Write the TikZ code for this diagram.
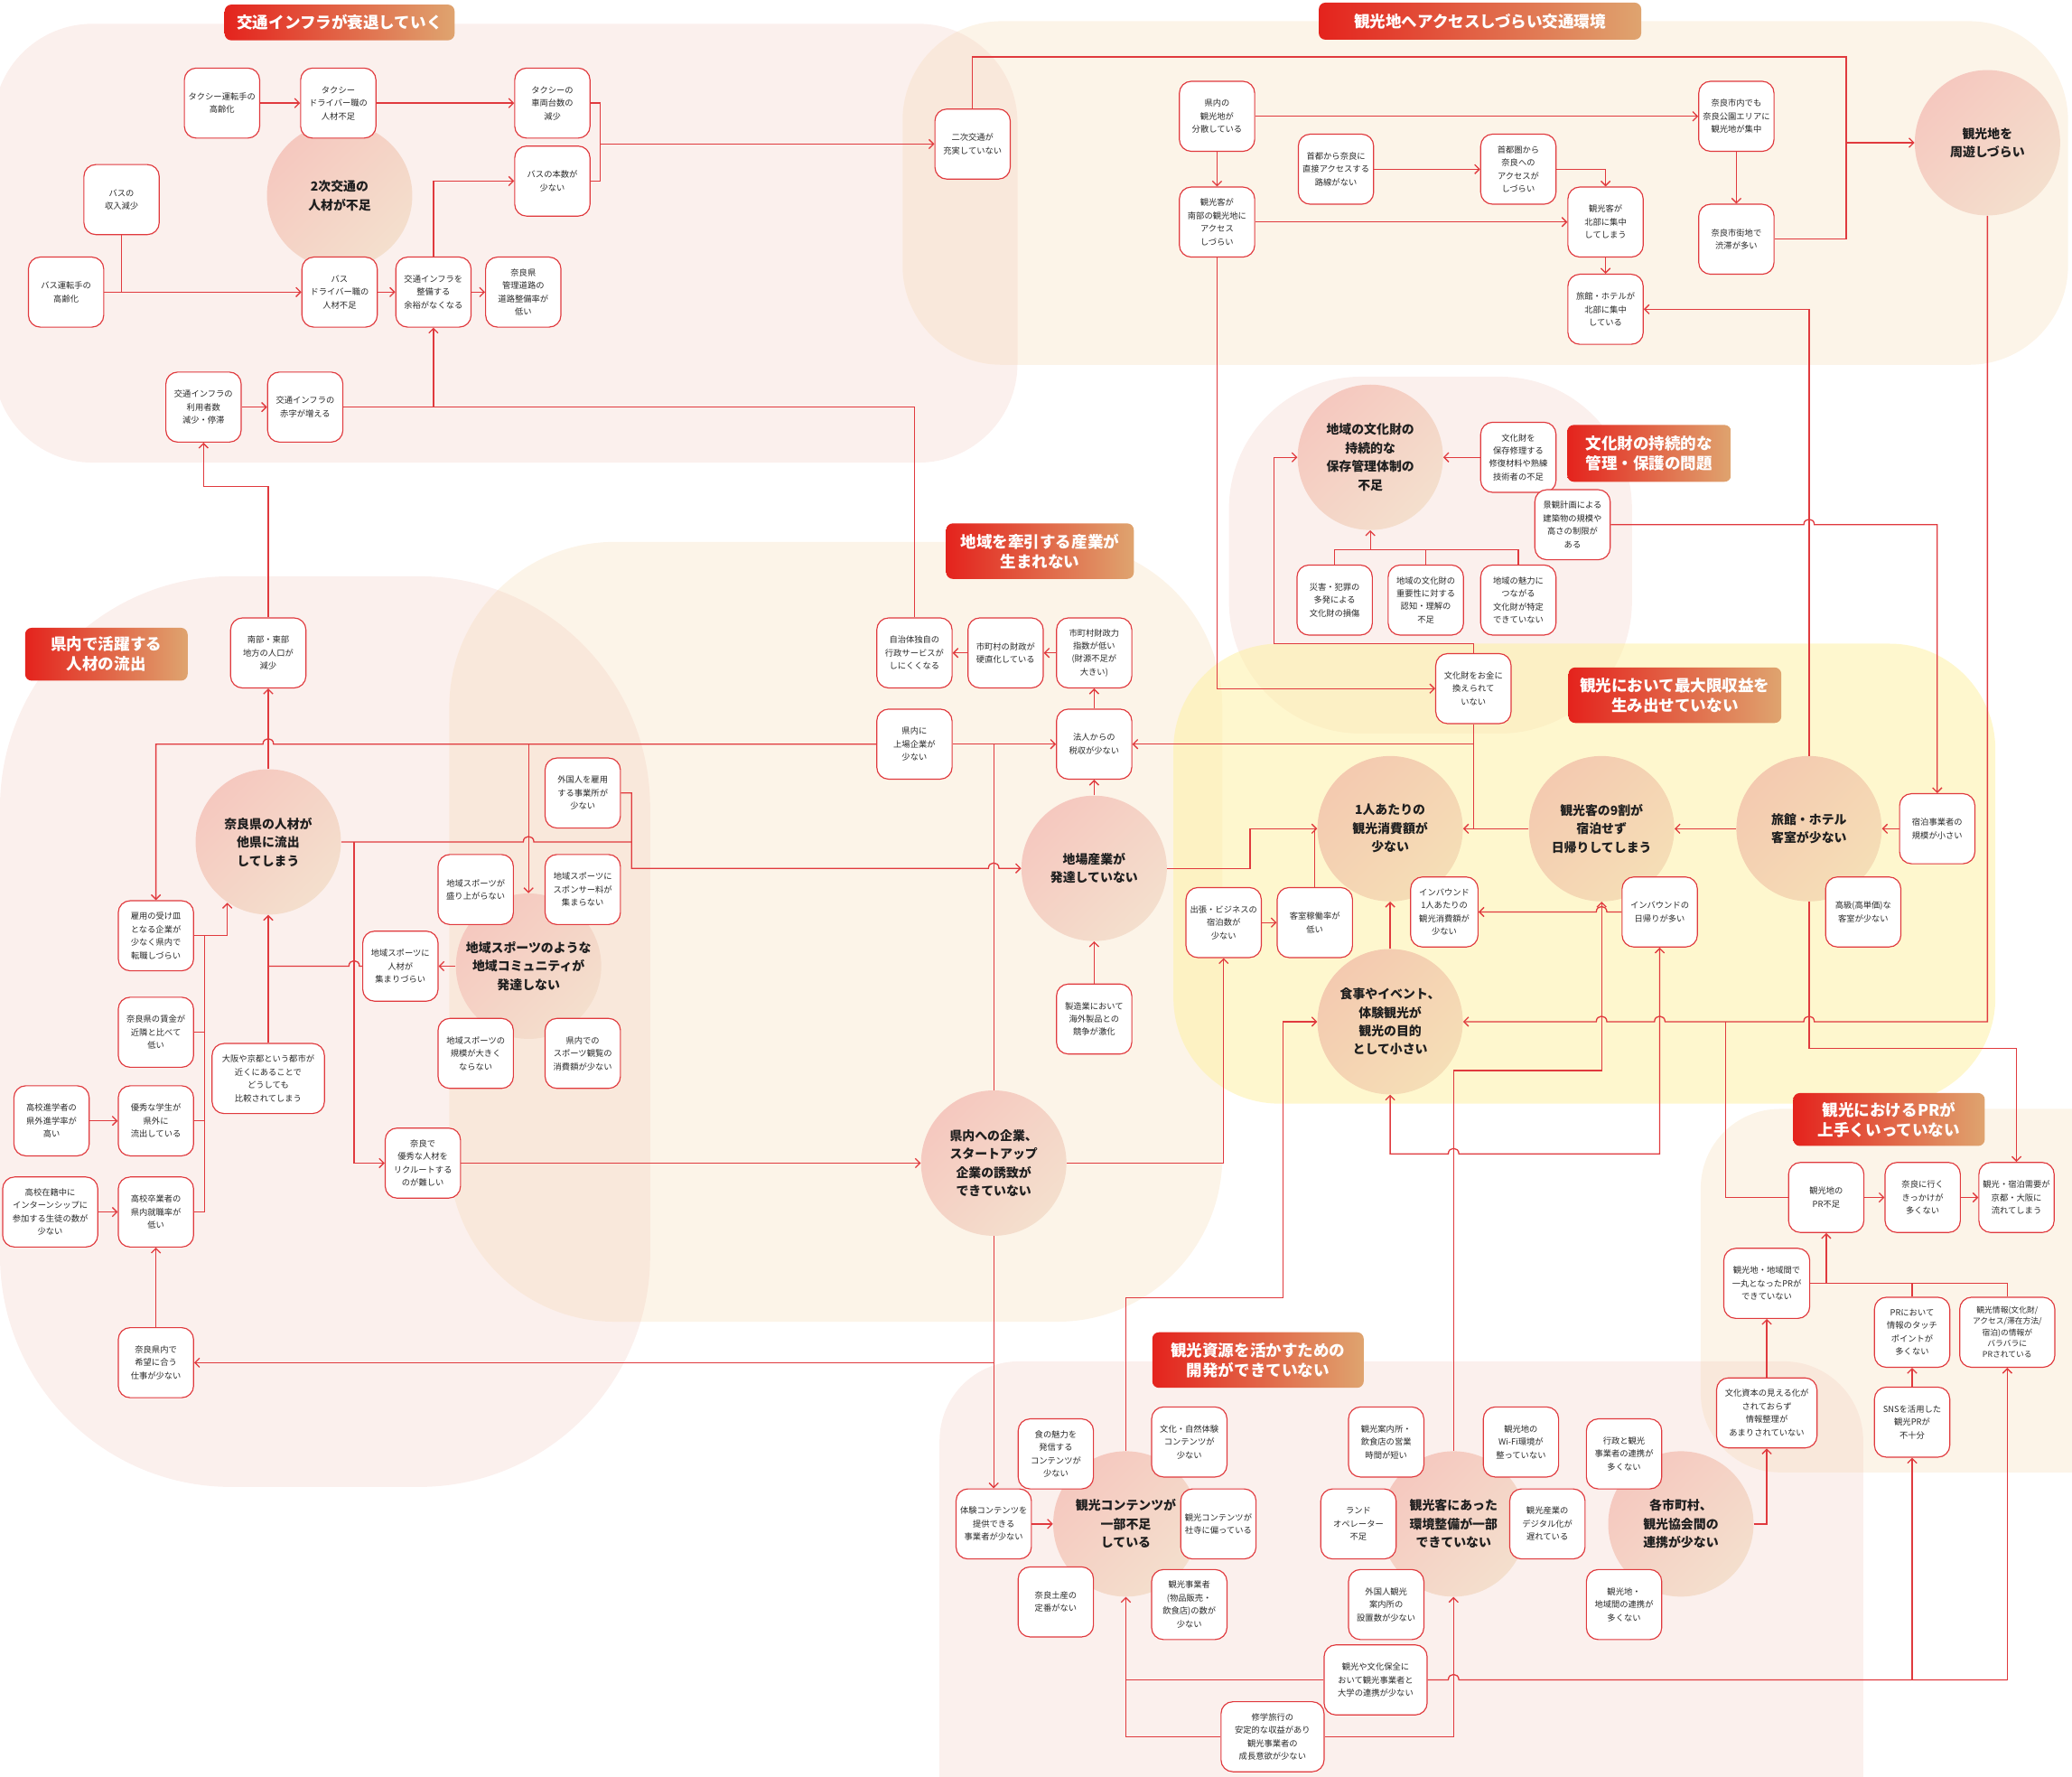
\documentclass[tikz,border=0pt]{standalone}
\usepackage{fontspec}
\setmainfont{Noto Sans CJK JP}
\usetikzlibrary{arrows.meta}
\definecolor{lred}{HTML}{E03A3E}
\definecolor{pinkR}{HTML}{F2C6BC}
\definecolor{beigeR}{HTML}{F5D5AA}
\definecolor{yellowR}{HTML}{FEF09E}
\definecolor{ellA}{HTML}{F5C8BF}
\definecolor{ellB}{HTML}{F4DFCD}
\definecolor{ellYA}{HTML}{F4CAB0}
\definecolor{ellYB}{HTML}{F5DEB6}
\definecolor{titA}{HTML}{E4231D}
\definecolor{titB}{HTML}{DFA46F}
\definecolor{txt}{HTML}{2A2A2A}
\begin{document}
\begin{tikzpicture}[x=1pt,y=-1pt,
  box/.style={draw=lred, line width=0.8pt, fill=white, rounded corners=9pt,
    minimum width=57pt, minimum height=53pt, inner sep=1pt, align=center,
    text=txt, font=\fontsize{6.35}{9.9}\selectfont},
  ell/.style={circle, minimum size=110pt, inner sep=0pt, top color=ellA, bottom color=ellB, shading angle=45},
  ellY/.style={circle, minimum size=110pt, inner sep=0pt, top color=ellYA, bottom color=ellYB, shading angle=45},
  etext/.style={align=center, inner sep=0pt, text=black!88, font=\bfseries\fontsize{9.5}{14}\selectfont},
  titlebox/.style={rounded corners=5pt, left color=titA, right color=titB, text=white,
    align=center, inner sep=0pt, font=\bfseries\fontsize{12}{15}\selectfont},
  conn/.style={draw=lred, line width=0.9pt},
  arr/.style={conn, -{Straight Barb[length=3.5pt,width=7pt]}},
  arrb/.style={conn, {Straight Barb[length=3.5pt,width=7pt]}-{Straight Barb[length=3.5pt,width=7pt]}},
  hopr/.style args={#1/#2}{insert path={-- ({#1-4},#2) .. controls ({#1-4},{#2-5.5}) and ({#1+4},{#2-5.5}) .. ({#1+4},#2)}},
  hopl/.style args={#1/#2}{insert path={-- ({#1+4},#2) .. controls ({#1+4},{#2-5.5}) and ({#1-4},{#2-5.5}) .. ({#1-4},#2)}},
  region/.style={fill opacity=0.27}
]
\useasboundingbox (0,0) rectangle (1568,1344);
% ---------- background regions ----------
\fill[pinkR, region, rounded corners=75pt] (-5,18) rectangle (770,350);
\fill[beigeR, region, rounded corners=75pt] (683,16) rectangle (1565,276);
\fill[pinkR, region, rounded corners=175pt] (0,436) rectangle (492,1125);
\fill[beigeR, region, rounded corners=125pt] (340,410) rectangle (925,1000);
\fill[pinkR, region, rounded corners=100pt] (930,285) rectangle (1235,555);
\fill[yellowR, fill opacity=0.5, rounded corners=80pt] (888,487) rectangle (1510,835);
\fill[pinkR, region, rounded corners=60pt] (711,1030) rectangle (1410,1420);
\fill[beigeR, region, rounded corners=60pt] (1287,839) rectangle (1640,1114);
% ---------- circles ----------
\node[ell] (E1) at (257,148) {};
\node[ell] (E2) at (1504,108) {};
\node[ell] (E3) at (1037,346) {};
\node[ell] (E4) at (203,637) {};
\node[ell] (E5) at (400,731) {};
\node[ell] (E6) at (828,657) {};
\node[ellY] (E7) at (1052,627) {};
\node[ellY] (E8) at (1212,627) {};
\node[ellY] (E9) at (1369,627) {};
\node[ellY] (E10) at (1052,773) {};
\node[ell] (E11) at (752,880) {};
\node[ell] (E12) at (852,1153) {};
\node[ell] (E13) at (1100,1153) {};
\node[ell] (E14) at (1272,1153) {};
% ---------- boxes ----------
% top-left
\node[box] (taxiage) at (168,78) {タクシー運転手の\\高齢化};
\node[box] (taxidrv) at (256,78) {タクシー\\ドライバー職の\\人材不足};
\node[box] (taxicnt) at (418,78) {タクシーの\\車両台数の\\減少};
\node[box] (busnum) at (418,137) {バスの本数が\\少ない};
\node[box] (businc) at (92,151) {バスの\\収入減少};
\node[box] (busage) at (50,221) {バス運転手の\\高齢化};
\node[box] (busdrv) at (257,221) {バス\\ドライバー職の\\人材不足};
\node[box] (infra) at (328,221) {交通インフラを\\整備する\\余裕がなくなる};
\node[box] (road) at (396,221) {奈良県\\管理道路の\\道路整備率が\\低い};
\node[box] (users) at (154,308) {交通インフラの\\利用者数\\減少・停滞};
\node[box] (deficit) at (231,308) {交通インフラの\\赤字が増える};
% top-right
\node[box] (niji) at (736,109) {二次交通が\\充実していない};
\node[box] (bunsan) at (921,88) {県内の\\観光地が\\分散している};
\node[box] (south) at (921,168) {観光客が\\南部の観光地に\\アクセス\\しづらい};
\node[box] (shuto) at (1011,128) {首都から奈良に\\直接アクセスする\\路線がない};
\node[box] (shutoken) at (1149,128) {首都圏から\\奈良への\\アクセスが\\しづらい};
\node[box] (north) at (1215,168) {観光客が\\北部に集中\\してしまう};
\node[box] (ryokann) at (1215,234) {旅館・ホテルが\\北部に集中\\している};
\node[box] (park) at (1314,88) {奈良市内でも\\奈良公園エリアに\\観光地が集中};
\node[box] (jam) at (1314,181) {奈良市街地で\\渋滞が多い};
% cultural
\node[box] (repair) at (1149,346) {文化財を\\保存修理する\\修復材料や熟練\\技術者の不足};
\node[box] (keikan) at (1190,397) {景観計画による\\建築物の規模や\\高さの制限が\\ある};
\node[box] (disaster) at (1010,454) {災害・犯罪の\\多発による\\文化財の損傷};
\node[box] (importance) at (1079,454) {地域の文化財の\\重要性に対する\\認知・理解の\\不足};
\node[box] (attract) at (1149,454) {地域の魅力に\\つながる\\文化財が特定\\できていない};
\node[box] (money) at (1115,521) {文化財をお金に\\換えられて\\いない};
% middle
\node[box] (jichitai) at (692,494) {自治体独自の\\行政サービスが\\しにくくなる};
\node[box] (zaisei) at (761,494) {市町村の財政が\\硬直化している};
\node[box] (shisu) at (828,494) {市町村財政力\\指数が低い\\(財源不足が\\大きい)};
\node[box] (jojo) at (692,563) {県内に\\上場企業が\\少ない};
\node[box] (hojin) at (828,563) {法人からの\\税収が少ない};
\node[box] (seizo) at (828,771) {製造業において\\海外製品との\\競争が激化};
% left
\node[box] (southeast) at (203,494) {南部・東部\\地方の人口が\\減少};
\node[box] (gaikoku) at (441,600) {外国人を雇用\\する事業所が\\少ない};
\node[box] (moriagari) at (360,673) {地域スポーツが\\盛り上がらない};
\node[box] (sponsor) at (441,673) {地域スポーツに\\スポンサー料が\\集まらない};
\node[box] (spjinzai) at (303,731) {地域スポーツに\\人材が\\集まりづらい};
\node[box] (spkibo) at (360,797) {地域スポーツの\\規模が大きく\\ならない};
\node[box] (spshohi) at (441,797) {県内での\\スポーツ観覧の\\消費額が少ない};
\node[box] (koyo) at (118,708) {雇用の受け皿\\となる企業が\\少なく県内で\\転職しづらい};
\node[box] (chingin) at (118,781) {奈良県の賃金が\\近隣と比べて\\低い};
\node[box] (yushu) at (118,848) {優秀な学生が\\県外に\\流出している};
\node[box] (kokoshin) at (39,848) {高校進学者の\\県外進学率が\\高い};
\node[box] (sotsu) at (118,917) {高校卒業者の\\県内就職率が\\低い};
\node[box, minimum width=72pt] (intern) at (38,917) {高校在籍中に\\インターンシップに\\参加する生徒の数が\\少ない};
\node[box] (kibou) at (118,1031) {奈良県内で\\希望に合う\\仕事が少ない};
\node[box, minimum width=85pt] (osaka) at (203,816) {大阪や京都という都市が\\近くにあることで\\どうしても\\比較されてしまう};
\node[box] (recruit) at (320,880) {奈良で\\優秀な人材を\\リクルートする\\のが難しい};
% yellow
\node[box] (small) at (1466,627) {宿泊事業者の\\規模が小さい};
\node[box] (luxury) at (1410,690) {高級(高単価)な\\客室が少ない};
\node[box] (inday) at (1256,690) {インバウンドの\\日帰りが多い};
\node[box, minimum width=51pt] (inspend) at (1093,690) {インバウンド\\1人あたりの\\観光消費額が\\少ない};
\node[box] (business) at (926,698) {出張・ビジネスの\\宿泊数が\\少ない};
\node[box] (occupancy) at (995,698) {客室稼働率が\\低い};
% bottom
\node[box] (taiken) at (752,1153) {体験コンテンツを\\提供できる\\事業者が少ない};
\node[box] (shoku) at (799,1100) {食の魅力を\\発信する\\コンテンツが\\少ない};
\node[box] (bunka) at (900,1091) {文化・自然体験\\コンテンツが\\少ない};
\node[box] (shaji) at (922,1153) {観光コンテンツが\\社寺に偏っている};
\node[box] (miyage) at (799,1212) {奈良土産の\\定番がない};
\node[box] (jigyosha) at (900,1214) {観光事業者\\(物品販売・\\飲食店)の数が\\少ない};
\node[box] (annai) at (1049,1091) {観光案内所・\\飲食店の営業\\時間が短い};
\node[box] (land) at (1028,1153) {ランド\\オペレーター\\不足};
\node[box] (wifi) at (1151,1091) {観光地の\\Wi-Fi環境が\\整っていない};
\node[box] (digital) at (1171,1153) {観光産業の\\デジタル化が\\遅れている};
\node[box] (gannai) at (1049,1214) {外国人観光\\案内所の\\設置数が少ない};
\node[box] (gyosei) at (1229,1100) {行政と観光\\事業者の連携が\\多くない};
\node[box] (chiiki) at (1229,1214) {観光地・\\地域間の連携が\\多くない};
\node[box, minimum width=78pt] (daigaku) at (1041,1271) {観光や文化保全に\\おいて観光事業者と\\大学の連携が少ない};
\node[box, minimum width=78pt] (shugaku) at (963,1314) {修学旅行の\\安定的な収益があり\\観光事業者の\\成長意欲が少ない};
% PR
\node[box] (prfusoku) at (1382,906) {観光地の\\PR不足};
\node[box] (kikkake) at (1455,906) {奈良に行く\\きっかけが\\多くない};
\node[box] (juyo) at (1526,906) {観光・宿泊需要が\\京都・大阪に\\流れてしまう};
\node[box, minimum width=65pt] (ichigan) at (1337,971) {観光地・地域間で\\一丸となったPRが\\できていない};
\node[box] (touch) at (1447,1008) {PRにおいて\\情報のタッチ\\ポイントが\\多くない};
\node[box, minimum width=72pt, font=\fontsize{6}{8.4}\selectfont] (info) at (1519,1008) {観光情報(文化財/\\アクセス/滞在方法/\\宿泊)の情報が\\バラバラに\\PRされている};
\node[box, minimum width=76pt] (shihon) at (1337,1069) {文化資本の見える化が\\されておらず\\情報整理が\\あまりされていない};
\node[box] (sns) at (1447,1076) {SNSを活用した\\観光PRが\\不十分};
% ---------- connectors ----------
% top-left
\draw[arr] (taxiage.east) -- (taxidrv.west);
\draw[arr] (taxidrv.east) -- (taxicnt.west);
\draw[conn] (taxicnt.east) -- (454,78) -- (454,137) -- (busnum.east);
\draw[arr] (454,109) -- (niji.west);
\draw[arr] (busage.east) -- (busdrv.west);
\draw[conn] (businc.south) -- (92,221);
\draw[arr] (busdrv.east) -- (infra.west);
\draw[arr] (infra.east) -- (road.west);
\draw[arr] (infra.north) -- (328,137) -- (busnum.west);
\draw[arr] (users.east) -- (deficit.west);
\draw[arr] (jichitai.north) -- (692,308) -- (328,308) -- (infra.south);
\draw[conn] (deficit.east) -- (328,308);
\draw[arr] (southeast.north) -- (203,368) -- (154,368) -- (users.south);
% top-right
\draw[conn] (niji.north) -- (736,43) -- (1397,43) -- (1397,181) -- (jam.east);
\draw[arr] (1397,108) -- (E2.west);
\draw[arr] (bunsan.east) -- (park.west);
\draw[arr] (bunsan.south) -- (south.north);
\draw[arr] (shuto.east) -- (shutoken.west);
\draw[arr] (shutoken.east) -- (1215,128) -- (north.north);
\draw[arr] (south.east) -- (north.west);
\draw[arr] (north.south) -- (ryokann.north);
\draw[arr] (park.south) -- (jam.north);
\draw[arr] (E9.north) -- (1369,234) -- (ryokann.east);
\draw[arr] (south.south) -- (921,521) -- (money.west);
\draw[arr] (E2.south) -- (1504,773) [hopl=1369/773] [hopl=1256/773] [hopl=1212/773] -- (E10.east);
% cultural
\draw[arr] (repair.west) -- (E3.east);
\draw[conn] (disaster.north) -- (1010,416) -- (1149,416) -- (attract.north);
\draw[conn] (importance.north) -- (1079,416);
\draw[arr] (1037,416) -- (E3.south);
\draw[arr] (money.north) -- (1115,487) -- (964,487) -- (964,346) -- (E3.west);
\draw[conn] (money.south) -- (1115,627);
\draw[arr] (1115,563) -- (hojin.east);
\draw[arr] (E8.west) -- (E7.east);
\draw[arr] (keikan.east) [hopr=1369/397] -- (1466,397) -- (small.north);
% yellow
\draw[arr] (small.west) -- (E9.east);
\draw[arr] (E9.west) -- (E8.east);
\draw[arr] (E6.east) -- (946,657) -- (946,627) -- (E7.west);
\draw[conn] (occupancy.north) -- (995,627);
\draw[arr] (business.east) -- (occupancy.west);
\draw[arr] (E11.east) -- (926,880) -- (business.south);
\draw[arr] (E10.north) -- (E7.south);
\draw[arr] (inday.west) [hopl=1212/690] -- (inspend.east);
\draw[arr] (E13.north) -- (1100,810) -- (1212,810) -- (E8.south);
\draw[arr] (E9.south) -- (1369,793) -- (1526,793) -- (juyo.north);
\draw[conn] (prfusoku.west) -- (1306,906) -- (1306,773);
\draw[arrb] (E10.south) -- (1052,873) [hopr=1100/873] -- (1256,873) -- (inday.south);
% bottom
\draw[arr] (E12.north) -- (852,982) -- (971,982) -- (971,773) -- (E10.west);
\draw[arr] (shugaku.west) -- (852,1314) -- (E12.south);
\draw[conn] (daigaku.west) -- (852,1271);
\draw[arr] (shugaku.east) -- (1100,1314) -- (E13.south);
\draw[conn] (daigaku.east) [hopr=1100/1271] -- (1519,1271);
\draw[arr] (1447,1271) -- (sns.south);
\draw[arr] (1519,1271) -- (info.south);
\draw[arr] (taiken.east) -- (E12.west);
\draw[arr] (E11.south) -- (taiken.north);
\draw[arr] (752,1031) -- (kibou.east);
% left
\draw[arr] (kibou.north) -- (sotsu.south);
\draw[arr] (kokoshin.east) -- (yushu.west);
\draw[arr] (intern.east) -- (sotsu.west);
\draw[arr] (sotsu.east) -- (155,917) -- (155,708) -- (172,708) -- (172,683);
\draw[conn] (koyo.east) -- (155,708);
\draw[conn] (chingin.east) -- (155,781);
\draw[conn] (yushu.east) -- (155,848);
\draw[arr] (osaka.north) -- (E4.south);
\draw[conn] (spjinzai.west) [hopl=268/731] -- (203,731);
\draw[arr] (E5.west) -- (spjinzai.east);
\draw[arr] (E4.north) -- (southeast.south);
\draw[arr] (jojo.west) -- (400,563) [hopl=203/563] -- (118,563) -- (koyo.north);
\draw[arr] (400,563) -- (E5.north);
\draw[arr] (jojo.east) -- (hojin.west);
\draw[conn] (E11.north) -- (752,563);
\draw[arr] (E6.north) -- (hojin.south);
\draw[arr] (seizo.north) -- (E6.south);
\draw[arr] (hojin.north) -- (shisu.south);
\draw[arr] (shisu.west) -- (zaisei.east);
\draw[arr] (zaisei.west) -- (jichitai.east);
\draw[arr] (gaikoku.east) -- (478,600) -- (478,657) [hopr=752/657] -- (E6.west);
\draw[conn] (E4.east) [hopr=400/637] -- (478,637);
\draw[arr] (268,637) -- (268,880) -- (recruit.west);
\draw[arr] (recruit.east) -- (E11.west);
% PR
\draw[arr] (E14.east) -- (1337,1153) -- (shihon.south);
\draw[arr] (shihon.north) -- (ichigan.south);
\draw[conn] (ichigan.east) -- (1519,971) -- (info.north);
\draw[conn] (1447,971) -- (touch.north);
\draw[arr] (1382,971) -- (prfusoku.south);
\draw[arr] (sns.north) -- (touch.south);
\draw[arr] (prfusoku.east) -- (kikkake.west);
\draw[arr] (kikkake.east) -- (juyo.west);
% ---------- circle texts ----------
\node[etext] (E1t) at (E1) {2次交通の\\人材が不足};
\node[etext] (E2t) at (E2) {観光地を\\周遊しづらい};
\node[etext] (E3t) at (E3) {地域の文化財の\\持続的な\\保存管理体制の\\不足};
\node[etext] (E4t) at (E4) {奈良県の人材が\\他県に流出\\してしまう};
\node[etext] (E5t) at (E5) {地域スポーツのような\\地域コミュニティが\\発達しない};
\node[etext] (E6t) at (E6) {地場産業が\\発達していない};
\node[etext] (E7t) at (E7) {1人あたりの\\観光消費額が\\少ない};
\node[etext] (E8t) at (E8) {観光客の9割が\\宿泊せず\\日帰りしてしまう};
\node[etext] (E9t) at (E9) {旅館・ホテル\\客室が少ない};
\node[etext] (E10t) at (E10) {食事やイベント、\\体験観光が\\観光の目的\\として小さい};
\node[etext] (E11t) at (E11) {県内への企業、\\スタートアップ\\企業の誘致が\\できていない};
\node[etext] (E12t) at (E12) {観光コンテンツが\\一部不足\\している};
\node[etext] (E13t) at (E13) {観光客にあった\\環境整備が一部\\できていない};
\node[etext] (E14t) at (E14) {各市町村、\\観光協会間の\\連携が少ない};
% ---------- titles ----------
\node[titlebox, minimum width=174pt, minimum height=27pt] (T1) at (257,17) {交通インフラが衰退していく};
\node[titlebox, minimum width=244pt, minimum height=28pt] (T2) at (1120,16) {観光地へアクセスしづらい交通環境};
\node[titlebox, minimum width=124pt, minimum height=43pt] (T3) at (1248,343) {文化財の持続的な\\管理・保護の問題};
\node[titlebox, minimum width=142pt, minimum height=42pt] (T4) at (787,417) {地域を牽引する産業が\\生まれない};
\node[titlebox, minimum width=123pt, minimum height=40pt] (T5) at (80.5,495) {県内で活躍する\\人材の流出};
\node[titlebox, minimum width=161pt, minimum height=42pt] (T6) at (1267.5,526) {観光において最大限収益を\\生み出せていない};
\node[titlebox, minimum width=145pt, minimum height=40pt] (T7) at (1429.5,847) {観光におけるPRが\\上手くいっていない};
\node[titlebox, minimum width=160pt, minimum height=42pt] (T8) at (952,1029) {観光資源を活かすための\\開発ができていない};
\end{tikzpicture}
\end{document}
